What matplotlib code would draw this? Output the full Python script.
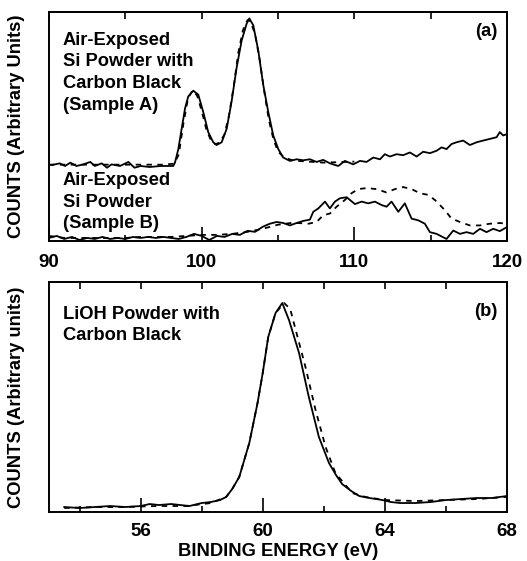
import matplotlib
matplotlib.use("Agg")
import matplotlib.pyplot as plt

plt.rcParams["font.family"] = ["Liberation Sans", "DejaVu Sans"]
plt.rcParams["font.weight"] = "bold"

# (a) Si 2p region, sample A (air-exposed Si powder with carbon black)
a_energy = [90.0, 90.2, 90.7, 91.05, 91.4, 91.8, 92.25, 92.7, 93.0, 93.45, 93.8, 94.1,
            94.65, 95.2, 95.6, 96.0, 96.6, 97.3, 97.9, 98.14, 98.25, 98.47, 98.69, 98.91,
            99.12, 99.45, 99.78, 100.1, 100.43, 100.76, 100.98, 101.31, 101.64, 101.96,
            102.29, 102.62, 102.95, 103.12, 103.38, 103.71, 104.03, 104.36, 104.69,
            105.02, 105.34, 105.78, 106.22, 106.65, 107.09, 107.53, 107.96, 108.4,
            108.95, 109.38, 109.93, 110.37, 110.8, 111.24, 111.68, 112.0, 112.33,
            112.77, 113.2, 113.64, 114.08, 114.51, 114.95, 115.39, 115.72, 116.04,
            116.37, 116.7, 117.13, 117.57, 118.01, 118.44, 118.88, 119.32, 119.53,
            119.75, 120.0]
a_counts = [75, 74.7, 76.3, 73.7, 77, 73.7, 75.3, 77.7, 73.7, 76.3, 72, 75.3,
            73.7, 77.7, 72, 73.7, 72.7, 73.7, 73.7, 73.7, 77, 90.3, 110.3, 130.3,
            142, 147.7, 143.7, 127, 107, 97, 94.3, 97, 110.3, 137,
            170.3, 197, 213.7, 218.7, 212, 187, 153.7, 127, 103.7,
            90.3, 82, 78.7, 80.3, 79.3, 80.3, 77.7, 79.7, 76.3,
            73.7, 78.7, 75.3, 78.7, 77.7, 82, 80.3, 85.3, 83,
            85.3, 84.3, 87, 83, 87.7, 86.3, 88.7, 92, 90.3,
            95.3, 97, 98.7, 94.3, 97, 98.7, 100.3, 102, 107,
            103.7, 105]

a_fit_energy = [90, 92, 94, 96, 97.5, 98.2, 98.5, 98.8, 99.1, 99.4, 99.7, 100.0, 100.3,
                100.6, 100.9, 101.2, 101.5, 101.8, 102.1, 102.4, 102.7, 103.0, 103.2,
                103.5, 103.8, 104.1, 104.4, 104.7, 105.0, 105.4, 106, 108, 110]
a_fit_counts = [75, 75, 75, 75, 75, 76, 85, 115, 140, 148, 143, 128, 110,
                99, 95, 97, 105, 124, 152, 185, 207, 217, 216,
                203, 178, 147, 119, 100, 88, 82, 79, 77, 78]

# (a) sample B (air-exposed Si powder)
b_energy = [90, 90.5, 91, 91.5, 92, 92.5, 93, 93.5, 94, 94.5, 95, 95.5, 96, 96.5, 97,
            97.5, 98, 98.5, 99, 99.5, 100, 100.5, 101, 101.5, 102, 102.5, 103, 103.5,
            104, 104.47, 104.91, 105.34, 105.78, 106.22, 106.65, 107.09, 107.31,
            107.64, 108.08, 108.4, 108.73, 109.06, 109.5, 110.04, 110.48, 110.91,
            111.35, 111.79, 112.11, 112.44, 112.88, 113.31, 113.75, 114.19, 114.62,
            114.95, 115.39, 116.04, 116.48, 116.92, 117.35, 117.79, 118.23, 118.66,
            119.1, 119.53, 120.0]
b_counts = [3, 5, 2, 4, 1, 3, 2, 4, 2, 3, 2, 4, 3, 4, 3,
            4, 3, 2, 4, 7, 5, 1, 5, 4, 7, 6, 10, 9,
            14, 17, 18.7, 17.7, 15.3, 17.7, 19.7, 21, 28.7,
            32, 38.7, 32, 38.7, 42, 43, 36.3, 38.7, 37,
            38.7, 35.3, 33.7, 38.7, 28.7, 37, 22, 20.3, 17,
            8.7, 7, 2, 10.3, 7, 8.7, 7, 12, 8.7,
            12, 9.7, 13.7]

b_fit_energy = [90, 91, 92, 93, 94, 95, 96, 97, 98, 99, 100, 101, 102, 103, 104, 105,
                106, 107, 107.53, 107.96, 108.4, 108.84, 109.38, 109.82, 110.26, 110.8,
                111.46, 112.11, 112.66, 113.2, 113.75, 114.29, 114.84, 115.28, 115.61,
                115.93, 116.37, 116.92, 117.57, 118.23, 118.88, 119.53, 120.0]
b_fit_counts = [5, 3, 3, 3, 3, 3, 4, 4, 4, 5, 6, 6, 7, 9, 12, 16,
                18, 17, 18.7, 25.3, 27, 33.7, 40.3, 47, 51, 52,
                51, 47.7, 51, 53, 51, 47, 45.3, 40.3, 35.3,
                30.3, 22, 18.7, 15.3, 15.3, 17, 17.7, 17]

# (b) LiOH powder with carbon black
c_energy = [53.5, 54, 54.5, 55, 55.5, 56, 56.3, 56.6, 57, 57.3, 57.6, 58, 58.3, 58.6,
            58.8, 59.0, 59.23, 59.56, 59.83, 60.0, 60.18, 60.42, 60.64, 60.86, 61.19,
            61.51, 61.84, 62.17, 62.4, 62.6, 62.9, 63.16, 63.5, 63.92, 64.2, 64.5, 65,
            65.5, 66, 66.5, 67, 67.5, 68]
c_counts = [5, 4, 5, 6, 5, 6, 8, 7, 8, 7, 6, 9, 10, 12,
            15, 23, 35, 69, 109, 139, 175, 199, 209, 192, 159,
            115, 75, 49, 37, 28, 21, 16, 14, 12, 10, 9, 9,
            10, 12, 13, 14, 14, 16]

c_fit_energy = [53.5, 54.5, 55.5, 56.5, 57.5, 58.3, 58.8, 59.0, 59.23, 59.56, 59.83,
                60.0, 60.18, 60.42, 60.7, 60.9, 61.08, 61.4, 61.73, 62.06, 62.38, 62.93,
                63.37, 64, 65, 66, 67, 68]
c_fit_counts = [4, 5, 5, 6, 6, 9, 15, 23, 35, 69, 109,
                139, 175, 199, 209, 203, 182, 145, 102, 65, 39, 19,
                15, 12, 11, 12, 13, 15]

TXT = 13.2
TICK = 13.5


def style_axis(ax, major, minor, labels, xlim, ylim, pad):
    ax.set_xlim(*xlim)
    ax.set_ylim(*ylim)
    ax.set_yticks([])
    ax.set_xticks(major)
    ax.set_xticklabels(labels, fontsize=TICK, fontweight="bold")
    ax.set_xticks(minor, minor=True)
    ax.tick_params(axis="x", which="major", direction="in", length=10, width=1.2, pad=pad)
    ax.tick_params(axis="x", which="minor", direction="in", length=4, width=1.2)
    top = ax.secondary_xaxis("top")
    top.set_xticks(sorted(major + minor))
    top.tick_params(direction="in", length=5, width=1.2, labeltop=False)
    for s in list(ax.spines.values()) + list(top.spines.values()):
        s.set_linewidth(1.4)


fig = plt.figure(figsize=(5.27, 5.61), dpi=100)
ax1 = fig.add_axes([0.093, 0.5704, 0.869, 0.4082])
ax2 = fig.add_axes([0.093, 0.0873, 0.869, 0.41])

ax1.plot(a_energy, a_counts, color="black", lw=1.3)
ax1.plot(a_fit_energy, a_fit_counts, color="black", lw=1.3, ls=(0, (3, 3)))
ax1.plot(b_energy, b_counts, color="black", lw=1.3)
ax1.plot(b_fit_energy, b_fit_counts, color="black", lw=1.3, ls=(0, (3, 3)))
style_axis(ax1, [90, 100, 110, 120], [95, 105, 115],
           ["90", "100", "110", "120"], (90, 120), (0, 225), 9)
ax1.text(0.03, 0.913, "Air-Exposed\nSi Powder with\nCarbon Black\n(Sample A)",
         transform=ax1.transAxes, fontsize=TXT, fontweight="bold", va="top",
         ha="left", linespacing=1.35)
ax1.text(0.03, 0.30, "Air-Exposed\nSi Powder\n(Sample B)",
         transform=ax1.transAxes, fontsize=TXT, fontweight="bold", va="top",
         ha="left", linespacing=1.35)
ax1.text(0.98, 0.952, "(a)", transform=ax1.transAxes, fontsize=TXT,
         fontweight="bold", ha="right", va="top")
ax1.set_ylabel("COUNTS (Arbitrary Units)", fontsize=TXT, fontweight="bold")
ax1.yaxis.set_label_coords(-0.052, 0.5)

ax2.plot(c_energy, c_counts, color="black", lw=1.3)
ax2.plot(c_fit_energy, c_fit_counts, color="black", lw=1.3, ls=(0, (3, 3)))
style_axis(ax2, [56, 60, 64, 68], [54, 58, 62, 66],
           ["56", "60", "64", "68"], (53.0, 68.0), (0, 230), 8)
ax2.text(0.03, 0.896, "LiOH Powder with\nCarbon Black", transform=ax2.transAxes,
         fontsize=TXT, fontweight="bold", va="top", ha="left", linespacing=1.35)
ax2.text(0.98, 0.91, "(b)", transform=ax2.transAxes, fontsize=TXT,
         fontweight="bold", ha="right", va="top")
ax2.set_ylabel("COUNTS (Arbitrary units)", fontsize=TXT, fontweight="bold")
ax2.yaxis.set_label_coords(-0.052, 0.5)
ax2.set_xlabel("BINDING ENERGY (eV)", fontsize=TXT, fontweight="bold")
ax2.xaxis.set_label_coords(0.5, -0.133)

fig.savefig("out.png", dpi=100)
